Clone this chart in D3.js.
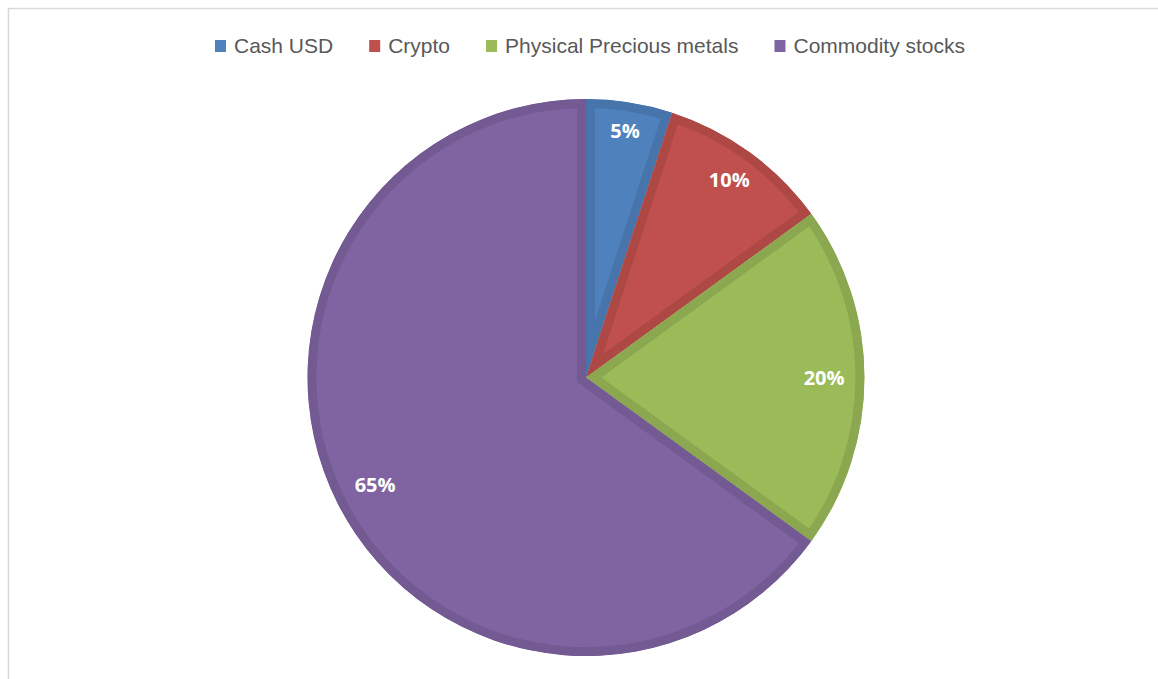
<!DOCTYPE html>
<html><head><meta charset="utf-8">
<script src="https://cdn.jsdelivr.net/npm/d3@7"></script>
<style>html,body{margin:0;padding:0;background:#fff;}svg{display:block;}</style>
</head><body>
<svg id="chart" width="1158" height="679"></svg>
<script>
const categories = ["Cash USD", "Crypto", "Physical Precious metals", "Commodity stocks"];
const values = [5, 10, 20, 65];
const labels = ["5%", "10%", "20%", "65%"];
const fills = ["#4F81BD", "#C0504D", "#9BBB59", "#8064A2"];
const borders = ["#4674AB", "#AD4844", "#8BA74F", "#735A92"];

const svg = d3.select("#chart");
const W = 1158, H = 679;

// chart area border
svg.append("path").attr("d", `M8.5,${H} L8.5,8.5 L${W},8.5`).attr("fill", "none")
  .attr("stroke", "#D9D9D9").attr("stroke-width", 1.5);

const cx = 586, cy = 377.5, R = 278.5;
const data = categories.map((c, i) => ({c, v: values[i], i}));
const pie = d3.pie().value(d => d.v).sort(null);
const arcs = pie(data);
const arc = d3.arc().innerRadius(0).outerRadius(R);

const defs = svg.append("defs");
const g = svg.append("g").attr("transform", `translate(${cx},${cy})`);
arcs.forEach((a, i) => {
  defs.append("clipPath").attr("id", "clip" + i).append("path").attr("d", arc(a));
});
g.selectAll("path.slice").data(arcs).join("path").attr("class", "slice")
  .attr("d", arc)
  .attr("fill", d => fills[d.index])
  .attr("stroke", d => borders[d.index])
  .attr("stroke-width", 18)
  .attr("stroke-linejoin", "miter")
  .attr("clip-path", d => `url(#clip${d.index})`);

// labels
const labelR = [0.895, 0.875, 0.855, 0.85];
g.selectAll("text.lbl").data(arcs).join("text").attr("class", "lbl")
  .attr("transform", d => {
    const ang = (d.startAngle + d.endAngle) / 2;
    const r = R * labelR[d.index];
    return `translate(${r * Math.sin(ang)},${-r * Math.cos(ang)})`;
  })
  .attr("text-anchor", "middle").attr("dy", "0.35em")
  .attr("fill", "#fff").attr("font-weight", "bold")
  .attr("font-family", "'Open Sans', 'Liberation Sans', sans-serif")
  .attr("font-size", 20)
  .text(d => labels[d.index]);

// legend
const lg = svg.append("g");
const fs = 21;
const items = [];
categories.forEach((c, i) => {
  const it = lg.append("g");
  it.append("rect").attr("x", 0).attr("y", -6).attr("width", 11).attr("height", 12).attr("fill", fills[i]);
  const t = it.append("text").attr("x", 19).attr("dy", "0.35em")
    .attr("font-family", "'Liberation Sans', Arial, sans-serif").attr("font-size", fs)
    .attr("fill", "#595959").text(c);
  const w = t.node().getComputedTextLength();
  items.push({it, w});
});
const gap = 36;
const total = items.reduce((s, d) => s + 19 + d.w, 0) + gap * (items.length - 1);
let x = 590 - total / 2;
items.forEach(d => {
  d.it.attr("transform", `translate(${x},46)`);
  x += 19 + d.w + gap;
});
</script>
</body></html>
